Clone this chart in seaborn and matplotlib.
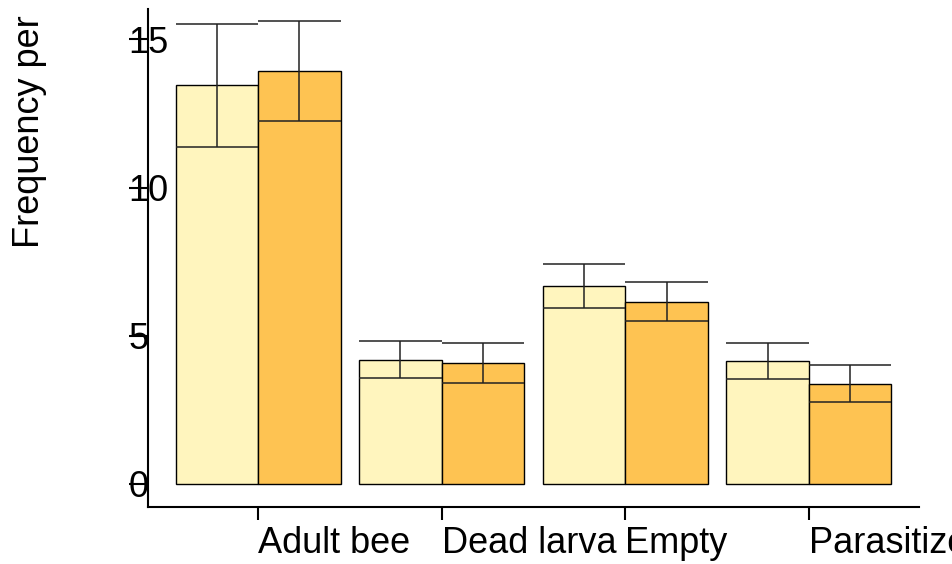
import matplotlib
matplotlib.use("Agg")
import matplotlib.pyplot as plt
import seaborn as sns
import pandas as pd

# Cell contents: mean frequency and standard error for the two groups
categories = ["Adult bee", "Dead larva", "Empty", "Parasitized"]
groups = ["Group A", "Group B"]
mean_a = [13.45, 4.19, 6.67, 4.15]
se_a = [2.09, 0.63, 0.74, 0.61]
mean_b = [13.95, 4.09, 6.14, 3.37]
se_b = [1.69, 0.675, 0.655, 0.63]
y_ticks = [0, 5, 10, 15]
colors = ["#FFF5BE", "#FEC352"]

sns.set_style("white")
plt.rcParams["font.family"] = ["Liberation Sans", "DejaVu Sans"]
plt.rcParams["text.color"] = "black"

rows = []
for g, means in zip(groups, [mean_a, mean_b]):
    for c, m in zip(categories, means):
        rows.append({"category": c, "group": g, "mean": m})
df = pd.DataFrame(rows)

fig = plt.figure(figsize=(9.52, 5.64), dpi=100)
W, H = 952, 564
ax = fig.add_axes([148 / W, 1 - 507 / H, (919 - 148) / W, (507 - 9) / H])

sns.barplot(data=df, x="category", y="mean", hue="group", order=categories,
            hue_order=groups, palette=colors, width=0.9, errorbar=None,
            saturation=1, edgecolor="black", linewidth=1.0, legend=False, ax=ax)

# Error bars: vertical stem with full-width caps at mean - se and mean + se
for container, means, ses in zip(ax.containers, [mean_a, mean_b], [se_a, se_b]):
    for bar, m, s in zip(container, means, ses):
        x0 = bar.get_x()
        w = bar.get_width()
        xc = x0 + w / 2
        ax.vlines(xc, m - s, m + s, color="#222222", linewidth=1.1, zorder=5)
        ax.hlines([m - s, m + s], x0, x0 + w, color="#222222", linewidth=1.1, zorder=5)

ax.set_xlim(-0.6, 3.6)
ax.set_ylim(-0.79, 16.03)
ax.set_yticks(y_ticks)
ax.set_yticklabels([str(t) for t in y_ticks])
ax.set_xlabel("")
ax.set_ylabel("")

for side in ["top", "right"]:
    ax.spines[side].set_visible(False)
for side in ["left", "bottom"]:
    ax.spines[side].set_linewidth(1.5)
    ax.spines[side].set_color("black")

ax.tick_params(axis="x", direction="out", length=9.4, width=1.5, pad=4.5,
               labelsize=26, colors="black", bottom=True)
ax.tick_params(axis="y", direction="out", length=13.5, width=1.5, pad=0.5,
               labelsize=26, colors="black", left=True)
for lab in ax.get_xticklabels():
    lab.set_horizontalalignment("left")
for lab in ax.get_yticklabels():
    lab.set_horizontalalignment("left")

fig.text(12 / W, 1 - 132 / H, "Frequency per", rotation=90, fontsize=26,
         color="black", ha="left", va="center")

fig.savefig("out.png", dpi=100)
